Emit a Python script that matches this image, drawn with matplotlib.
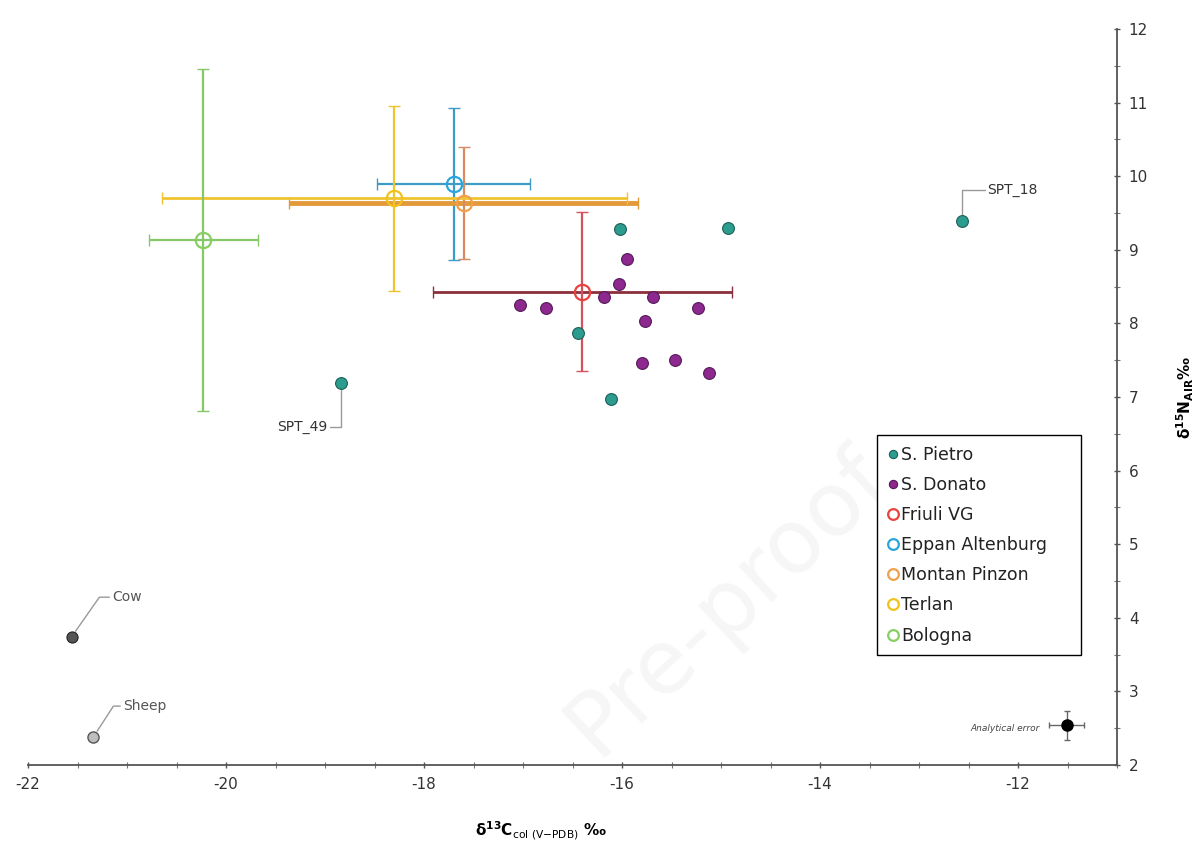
import matplotlib
matplotlib.use('Agg')
import matplotlib.pyplot as plt
from matplotlib.ticker import MultipleLocator

plt.rcParams['font.family'] = ['DejaVu Sans']
plt.rcParams['mathtext.fontset'] = 'dejavusans'

# individual samples
pietro_x = [-16.02, -14.93, -12.57, -16.44, -16.11, -18.84]
pietro_y = [9.28, 9.30, 9.39, 7.87, 6.97, 7.19]

donato_x = [-15.95, -16.03, -16.18, -15.69, -17.03, -16.77, -15.23, -15.77, -15.80, -15.46, -15.12]
donato_y = [8.88, 8.54, 8.36, 8.36, 8.25, 8.21, 8.21, 8.03, 7.46, 7.50, 7.33]

# fauna
fauna_names = ['Cow', 'Sheep']
fauna_x = [-21.56, -21.34]
fauna_y = [3.74, 2.38]

# comparison sites, mean +/- sd
sites = ['Friuli VG', 'Eppan Altenburg', 'Montan Pinzon', 'Terlan', 'Bologna']
site_x = [-16.40, -17.70, -17.60, -18.30, -20.23]
site_y = [8.43, 9.89, 9.64, 9.70, 9.13]
site_xerr = [1.51, 0.77, 1.76, 2.35, 0.55]
site_yerr = [1.08, 1.03, 0.76, 1.26, 2.32]

err_x, err_y = -11.51, 2.54
err_dx, err_dy = 0.18, 0.20

site_colors = ['#e8433f', '#2aa6dc', '#f0a04a', '#f2c21c', '#86cf62']
xbar_colors = ['#8c2f3c', '#3c9cc6', '#e29a3a', '#f0c430', '#86c866']
ybar_colors = ['#d4505c', '#3c9cc6', '#d98a60', '#f0c430', '#86c866']
xbar_widths = [2.0, 1.6, 3.5, 2.0, 1.6]

fig = plt.figure(figsize=(12.01, 8.51), dpi=100)
ax = fig.add_axes([28 / 1201, 86 / 851, 1089 / 1201, 736 / 851])

# faint publisher watermark
ax.text(-14.93, 4.21, 'Pre-proof', fontsize=64, color='#f6f6f6',
        rotation=43, ha='center', va='center', zorder=0)

for i in range(len(sites)):
    ax.errorbar(site_x[i], site_y[i], xerr=site_xerr[i], fmt='none',
                ecolor=xbar_colors[i], elinewidth=xbar_widths[i], capsize=4, zorder=2)
    ax.errorbar(site_x[i], site_y[i], yerr=site_yerr[i], fmt='none',
                ecolor=ybar_colors[i], elinewidth=1.6, capsize=4, zorder=2)

ax.plot(pietro_x, pietro_y, 'o', ms=8.5, mfc='#2b9c8e', mec='#1d5f57', mew=0.8,
        label='S. Pietro', zorder=4)
ax.plot(donato_x, donato_y, 'o', ms=8.5, mfc='#8c288e', mec='#551a58', mew=0.8,
        label='S. Donato', zorder=4)

for i in range(len(sites)):
    ax.plot(site_x[i], site_y[i], 'o', ms=11, mfc='none', mec=site_colors[i], mew=1.6,
            label=sites[i], zorder=5)

ax.plot(fauna_x[0], fauna_y[0], 'o', ms=8, mfc='#555555', mec='#222222', mew=0.8, zorder=4)
ax.plot(fauna_x[1], fauna_y[1], 'o', ms=8, mfc='#bdbdbd', mec='#555555', mew=1.0, zorder=4)

ax.errorbar(err_x, err_y, xerr=err_dx, yerr=err_dy, fmt='o', ms=8, color='black',
            ecolor='#666666', elinewidth=1, capsize=2, zorder=4)
ax.text(err_x - 0.27, err_y - 0.05, 'Analytical error', fontsize=6.5, color='#444444',
        ha='right', va='center', style='italic')

lead = dict(arrowstyle='-', color='#999999', lw=1, shrinkA=0, shrinkB=5)
ax.annotate('SPT_49', xy=(pietro_x[5], pietro_y[5]), xytext=(-18.98, 6.59),
            ha='right', va='center', fontsize=10, color='#333333',
            arrowprops=dict(lead, connectionstyle='angle,angleA=0,angleB=90,rad=0'))
ax.annotate('SPT_18', xy=(pietro_x[2], pietro_y[2]), xytext=(-12.31, 9.81),
            ha='left', va='center', fontsize=10, color='#333333',
            arrowprops=dict(lead, connectionstyle='angle,angleA=0,angleB=90,rad=0'))
ax.annotate(fauna_names[0], xy=(fauna_x[0], fauna_y[0]), xytext=(-21.15, 4.28),
            ha='left', va='center', fontsize=10, color='#555555',
            arrowprops=dict(lead, connectionstyle='angle,angleA=0,angleB=55,rad=0'))
ax.annotate(fauna_names[1], xy=(fauna_x[1], fauna_y[1]), xytext=(-21.04, 2.80),
            ha='left', va='center', fontsize=10, color='#555555',
            arrowprops=dict(lead, connectionstyle='angle,angleA=0,angleB=57,rad=0'))

ax.set_xlim(-22, -11)
ax.set_ylim(2, 12)
ax.set_xticks(range(-22, -11, 2))
ax.xaxis.set_minor_locator(MultipleLocator(0.5))
ax.yaxis.set_major_locator(MultipleLocator(1))
ax.yaxis.set_minor_locator(MultipleLocator(0.5))

ax.spines['top'].set_visible(False)
ax.spines['left'].set_visible(False)
for s in ['bottom', 'right']:
    ax.spines[s].set_color('#555555')
    ax.spines[s].set_linewidth(1.3)
ax.yaxis.tick_right()
ax.yaxis.set_label_position('right')
ax.tick_params(which='major', direction='inout', length=5, width=1, color='#555555',
               labelsize=11, labelcolor='#333333', pad=6)
ax.tick_params(which='minor', direction='inout', length=4, width=0.8, color='#777777')
ax.set_xticklabels([str(t) for t in range(-22, -11, 2)])

ax.set_xlabel(r'$\mathbf{\delta^{13}C}_{\mathrm{col\ (V{-}PDB)}}$ ‰', fontsize=11,
              fontweight='bold')
ax.xaxis.set_label_coords(0.471, -0.075)
ax.set_ylabel(r'$\mathbf{\delta^{15}N}_{\mathbf{AIR}}$‰', fontsize=11,
              fontweight='bold', rotation=90)
ax.yaxis.set_label_coords(1.053, 0.5)

leg = ax.legend(loc='upper left', bbox_to_anchor=(0.78, 0.147, 0.187, 0.301),
                mode='expand', fontsize=12.5,
                frameon=True, fancybox=False, edgecolor='black', framealpha=1,
                handlelength=0.6, handletextpad=0.15, labelspacing=0.7,
                borderpad=0.6, markerscale=0.7, borderaxespad=0)
leg.get_frame().set_linewidth(1.0)
for t in leg.get_texts():
    t.set_color('#222222')

fig.savefig('out.png', dpi=100)
